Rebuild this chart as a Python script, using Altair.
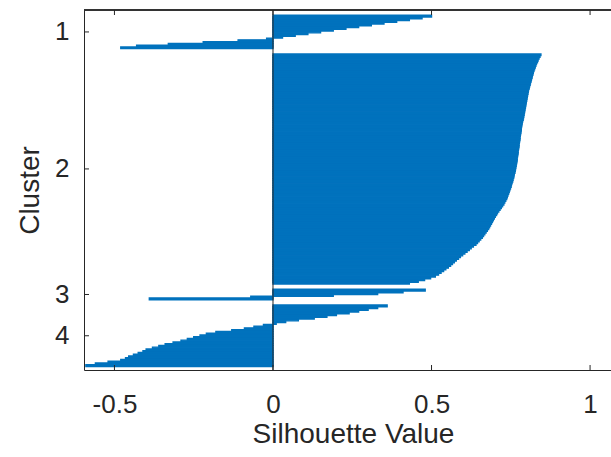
import altair as alt
import pandas as pd

# Silhouette values per cluster (sorted descending)
cluster1 = [0.50, 0.47, 0.43, 0.39, 0.35, 0.31, 0.27, 0.23, 0.19, 0.15, 0.11, 0.07, 0.03,
            -0.02, -0.11, -0.22, -0.33, -0.43, -0.48]
cluster2 = [0.845, 0.842, 0.839, 0.836, 0.834, 0.831, 0.829, 0.827, 0.825, 0.823,
            0.821, 0.820, 0.818, 0.817, 0.815, 0.814, 0.812, 0.811, 0.809, 0.808,
            0.806, 0.805, 0.804, 0.803, 0.802, 0.801, 0.800, 0.799, 0.798, 0.797,
            0.796, 0.795, 0.794, 0.793, 0.792, 0.791, 0.790, 0.789, 0.787, 0.786,
            0.785, 0.784, 0.783, 0.783, 0.782, 0.781, 0.780, 0.779, 0.779, 0.778,
            0.777, 0.776, 0.776, 0.775, 0.774, 0.773, 0.773, 0.772, 0.771, 0.770,
            0.770, 0.769, 0.768, 0.767, 0.766, 0.765, 0.764, 0.763, 0.761, 0.760,
            0.759, 0.757, 0.756, 0.754, 0.752, 0.751, 0.749, 0.747, 0.745, 0.743,
            0.741, 0.739, 0.737, 0.734, 0.731, 0.728, 0.724, 0.720, 0.716, 0.712,
            0.708, 0.705, 0.701, 0.698, 0.695, 0.692, 0.689, 0.686, 0.683, 0.680,
            0.676, 0.672, 0.668, 0.664, 0.660, 0.655, 0.650, 0.645, 0.640, 0.632,
            0.625, 0.619, 0.612, 0.605, 0.598, 0.591, 0.585, 0.578, 0.572, 0.566,
            0.560, 0.553, 0.545, 0.538, 0.530, 0.522, 0.512, 0.497, 0.478, 0.458, 0.430]
cluster3 = [0.48, 0.41, 0.33, 0.19, -0.07, -0.39]
cluster4 = [0.36, 0.33, 0.30, 0.27, 0.24, 0.20, 0.17, 0.13, 0.08, 0.04, 0.01,
            -0.03, -0.06, -0.09, -0.13, -0.18, -0.21, -0.23, -0.25, -0.27, -0.29,
            -0.315, -0.34, -0.36, -0.38, -0.40, -0.41, -0.425, -0.44, -0.455, -0.465,
            -0.48, -0.52, -0.56, -0.59]
clusters = [cluster1, cluster2, cluster3, cluster4]
cluster_labels = ["1", "2", "3", "4"]
x_ticks = [-0.5, 0, 0.5, 1]

# Layout rows the way MATLAB's silhouette does (gap rows between clusters)
space = 3
rows, vals = [], []
tick_rows = []
r = space
for arr in clusters:
    start = r + 1
    for v in arr:
        r += 1
        rows.append(r)
        vals.append(v)
    tick_rows.append((start + r) / 2)
    r += space

df = pd.DataFrame({"row": rows, "val": vals})
W, H = 527, 360
INK = "#262626"
BLUE = "#0072BD"

xscale = alt.Scale(domain=[-0.596, 1.066], nice=False, zero=False)
yscale = alt.Scale(domain=[0.5, r - 0.5], nice=False, zero=False, reverse=True)

y_label_expr = " : ".join(
    "datum.value == %s ? '%s'" % (repr(t), s) for t, s in zip(tick_rows, cluster_labels)
) + " : ''"
x_label_expr = "datum.value < 0 ? '-' + format(-datum.value, '') : format(datum.value, '')"

xaxis = alt.Axis(values=x_ticks, title="Silhouette Value",
                 labelExpr=x_label_expr,
                 ticks=False, grid=False,
                 domainColor=INK, domainWidth=1,
                 labelFontSize=26, labelPadding=21, labelColor=INK,
                 titleFontSize=28, titleFontWeight="normal", titleColor=INK,
                 titleX=269, titleY=72, titleAlign="center",
                 titleBaseline="alphabetic")
yaxis = alt.Axis(values=tick_rows, title="Cluster", labelExpr=y_label_expr,
                 ticks=False, grid=False,
                 domainColor=INK, domainWidth=1,
                 labelFontSize=26, labelPadding=15, labelColor=INK,
                 labelBaseline="middle",
                 titleFontSize=28, titleFontWeight="normal", titleColor=INK,
                 titleX=-45.5, titleY=180, titleAngle=270,
                 titleAlign="center", titleBaseline="alphabetic")

bars = alt.Chart(df).transform_calculate(
    y0="datum.row - 0.5", y1="datum.row + 0.5", zero="0"
).mark_rect(color=BLUE, stroke=BLUE, strokeWidth=1.4).encode(
    x=alt.X("val:Q", scale=xscale, axis=xaxis),
    x2="zero:Q",
    y=alt.Y("y0:Q", scale=yscale, axis=yaxis),
    y2="y1:Q",
)

zero_line = alt.Chart(pd.DataFrame({"z": [0]})).mark_rule(
    color=INK, strokeWidth=1
).encode(x=alt.X("z:Q", scale=xscale, axis=xaxis))

xt = pd.DataFrame({"v": x_ticks})
top_ticks = alt.Chart(xt).mark_rule(color=INK, strokeWidth=1).encode(
    x=alt.X("v:Q", scale=xscale, axis=xaxis), y=alt.value(0), y2=alt.value(5))
bottom_ticks = alt.Chart(xt).mark_rule(color=INK, strokeWidth=1).encode(
    x=alt.X("v:Q", scale=xscale, axis=xaxis), y=alt.value(H - 5), y2=alt.value(H))
yt = pd.DataFrame({"t": tick_rows})
left_ticks = alt.Chart(yt).mark_rule(color=INK, strokeWidth=1).encode(
    y=alt.Y("t:Q", scale=yscale, axis=yaxis), x=alt.value(0), x2=alt.value(5))
top_border = alt.Chart(xt).mark_rule(color=INK, strokeWidth=1).encode(
    x=alt.value(0), x2=alt.value(W), y=alt.value(0))

chart = alt.layer(bars, zero_line, top_ticks, bottom_ticks, left_ticks, top_border).properties(
    width=W, height=H,
    autosize=alt.AutoSizeParams(type="none"),
    padding={"left": 84, "top": 10, "right": 0, "bottom": 87},
).configure(
    font="Liberation Sans", background="white",
    view=alt.ViewConfig(stroke=None),
)

chart.save("out.html", embed_options={"renderer": "svg", "actions": False})
